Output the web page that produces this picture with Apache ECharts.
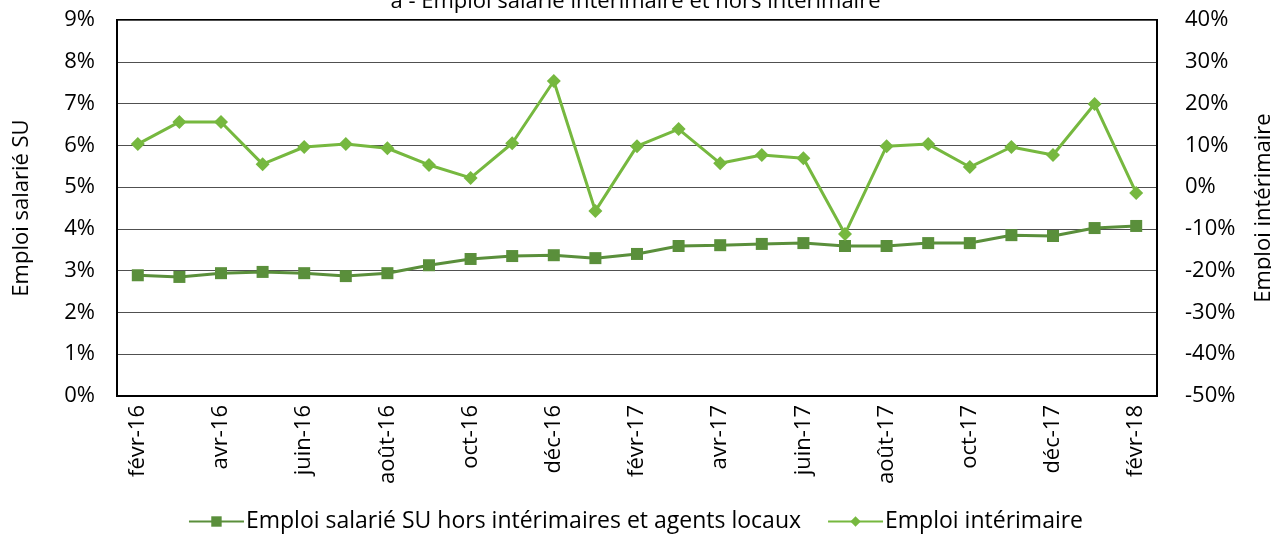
<!DOCTYPE html>
<html lang="fr">
<head>
    <meta charset="UTF-8">
    <title>Emploi salarié intérimaire et hors intérimaire</title>
    <script src="https://cdn.jsdelivr.net/npm/echarts@6/dist/echarts.min.js"></script>
    <style>
        html, body { margin: 0; padding: 0; background: #fff; }
        #main { width: 1271px; height: 535px; }
    </style>
</head>
<body>
    <div id="main"></div>
    <script>
        // mois, de févr-16 à févr-18
        var months = ['févr-16', 'mars-16', 'avr-16', 'mai-16', 'juin-16', 'juil-16', 'août-16', 'sept-16',
            'oct-16', 'nov-16', 'déc-16', 'janv-17', 'févr-17', 'mars-17', 'avr-17', 'mai-17', 'juin-17',
            'juil-17', 'août-17', 'sept-17', 'oct-17', 'nov-17', 'déc-17', 'janv-18', 'févr-18'];
        // axe gauche, en %
        var emploiSU = [2.89, 2.85, 2.94, 2.97, 2.94, 2.87, 2.94, 3.13, 3.28, 3.35, 3.37, 3.30, 3.40,
            3.59, 3.61, 3.64, 3.66, 3.59, 3.59, 3.66, 3.66, 3.85, 3.83, 4.02, 4.07];
        // axe droit, en %
        var emploiInterim = [10.3, 15.6, 15.6, 5.5, 9.6, 10.3, 9.3, 5.3, 2.2, 10.5, 25.4, -5.7, 9.8,
            13.9, 5.7, 7.7, 6.9, -11.2, 9.8, 10.3, 4.8, 9.6, 7.7, 19.9, -1.4];

        var font = '"Open Sans", "Noto Sans", sans-serif';
        var myChart = echarts.init(document.getElementById('main'));
        var option = {
            animation: false,
            title: {
                text: 'a - Emploi salarié intérimaire et hors intérimaire',
                left: 'center',
                top: -14,
                textStyle: { fontFamily: font, fontWeight: 'normal', fontSize: 22, color: '#000' }
            },
            legend: {
                bottom: -3,
                left: 'center',
                itemWidth: 55,
                itemHeight: 13,
                itemGap: 26,
                textStyle: { fontFamily: font, fontSize: 23, color: '#000', padding: [0, 0, 0, -3] },
                data: ['Emploi salarié SU hors intérimaires et agents locaux', 'Emploi intérimaire']
            },
            grid: {
                left: 117, right: 114, top: 20, bottom: 139,
                outerBoundsMode: 'none',
                containLabel: false,
                show: true, borderColor: '#000', borderWidth: 2
            },
            xAxis: {
                type: 'category',
                data: months,
                axisLine: { lineStyle: { color: '#000', width: 2 } },
                axisTick: { show: false },
                axisLabel: {
                    interval: 1, rotate: 90, margin: 9,
                    fontFamily: font, fontSize: 22, color: '#000'
                }
            },
            yAxis: [{
                type: 'value',
                min: 0, max: 9, interval: 1,
                name: 'Emploi salarié SU',
                nameLocation: 'middle',
                nameGap: 84,
                nameTextStyle: { fontFamily: font, fontSize: 22, color: '#000' },
                axisLine: { show: true, lineStyle: { color: '#000', width: 2 } },
                axisLabel: {
                    formatter: '{value}%', margin: 22,
                    fontFamily: font, fontSize: 22, color: '#000'
                },
                splitLine: { lineStyle: { color: '#505050', width: 1 } }
            }, {
                type: 'value',
                min: -50, max: 40, interval: 10,
                name: 'Emploi intérimaire',
                nameLocation: 'middle',
                nameGap: 96,
                nameRotate: 90,
                nameTextStyle: { fontFamily: font, fontSize: 22, color: '#000' },
                axisLine: { show: true, lineStyle: { color: '#000', width: 2 } },
                axisLabel: {
                    formatter: '{value}%', margin: 28,
                    fontFamily: font, fontSize: 22, color: '#000'
                },
                splitLine: { show: false }
            }],
            series: [{
                name: 'Emploi salarié SU hors intérimaires et agents locaux',
                type: 'line',
                yAxisIndex: 0,
                data: emploiSU,
                symbol: 'rect',
                symbolSize: 12,
                color: '#5a8f3b',
                lineStyle: { width: 3, color: '#5a8f3b' },
                itemStyle: { color: '#5a8f3b' }
            }, {
                name: 'Emploi intérimaire',
                type: 'line',
                yAxisIndex: 1,
                data: emploiInterim,
                symbol: 'diamond',
                symbolSize: 14,
                color: '#76b83f',
                lineStyle: { width: 3, color: '#76b83f' },
                itemStyle: { color: '#76b83f' }
            }]
        };
        myChart.setOption(option);
    </script>
</body>
</html>
